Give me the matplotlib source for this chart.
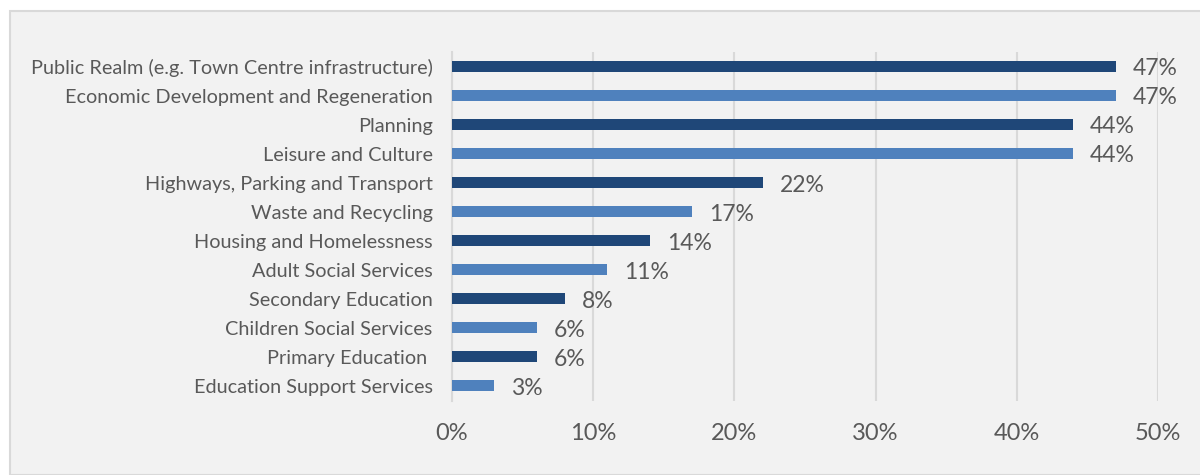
import matplotlib
matplotlib.use("Agg")
import matplotlib.pyplot as plt
from matplotlib.patches import Rectangle
from matplotlib.ticker import PercentFormatter

categories = [
    "Public Realm (e.g. Town Centre infrastructure)",
    "Economic Development and Regeneration",
    "Planning",
    "Leisure and Culture",
    "Highways, Parking and Transport",
    "Waste and Recycling",
    "Housing and Homelessness",
    "Adult Social Services",
    "Secondary Education",
    "Children Social Services",
    "Primary Education ",
    "Education Support Services",
]
values = [47, 47, 44, 44, 22, 17, 14, 11, 8, 6, 6, 3]
xticks = [0, 10, 20, 30, 40, 50]

DARK = "#1F4778"; LIGHT = "#4F81BD"; TEXT = "#595959"; GRID = "#D9D9D9"; BG = "#F2F2F2"

plt.rcParams["font.family"] = ["Lato", "DejaVu Sans"]

fig = plt.figure(figsize=(12, 4.75), dpi=100)
fig.patch.set_facecolor("white")
# chart area panel with thin border, kept behind the axes
fig.patches.append(Rectangle((10 / 1200, 0), 1.0, 1 - 11 / 475, transform=fig.transFigure,
                             facecolor=BG, edgecolor="#D9D9D9", lw=1.5, zorder=-10))

ax = fig.add_axes([452 / 1200, 1 - 400.5 / 475, (1158 - 452) / 1200, (400.5 - 52) / 475])
ax.patch.set_alpha(0)

ypos = list(range(len(categories)))
colors = [DARK if i % 2 == 0 else LIGHT for i in ypos]
ax.barh(ypos, values, height=0.38, color=colors, zorder=3)
for y, v in zip(ypos, values):
    ax.text(v + 1.2, y + 0.08, f"{v}%", va="center", ha="left", fontsize=16.5, color=TEXT)

ax.set_ylim(len(categories) - 0.5, -0.5)
ax.set_xlim(0, 50)
ax.set_yticks(ypos)
ax.set_yticklabels(categories, fontsize=14.3, color=TEXT)
ax.set_xticks(xticks)
ax.xaxis.set_major_formatter(PercentFormatter(decimals=0))
ax.tick_params(axis="x", length=0, pad=16, labelsize=17, labelcolor=TEXT)
ax.tick_params(axis="y", length=0, pad=14)
ax.grid(axis="x", color=GRID, lw=1.5, zorder=0)
for s in ["top", "right", "bottom"]:
    ax.spines[s].set_visible(False)
ax.spines["left"].set_color(GRID)
ax.spines["left"].set_linewidth(1.5)

fig.savefig("out.png", dpi=100)
